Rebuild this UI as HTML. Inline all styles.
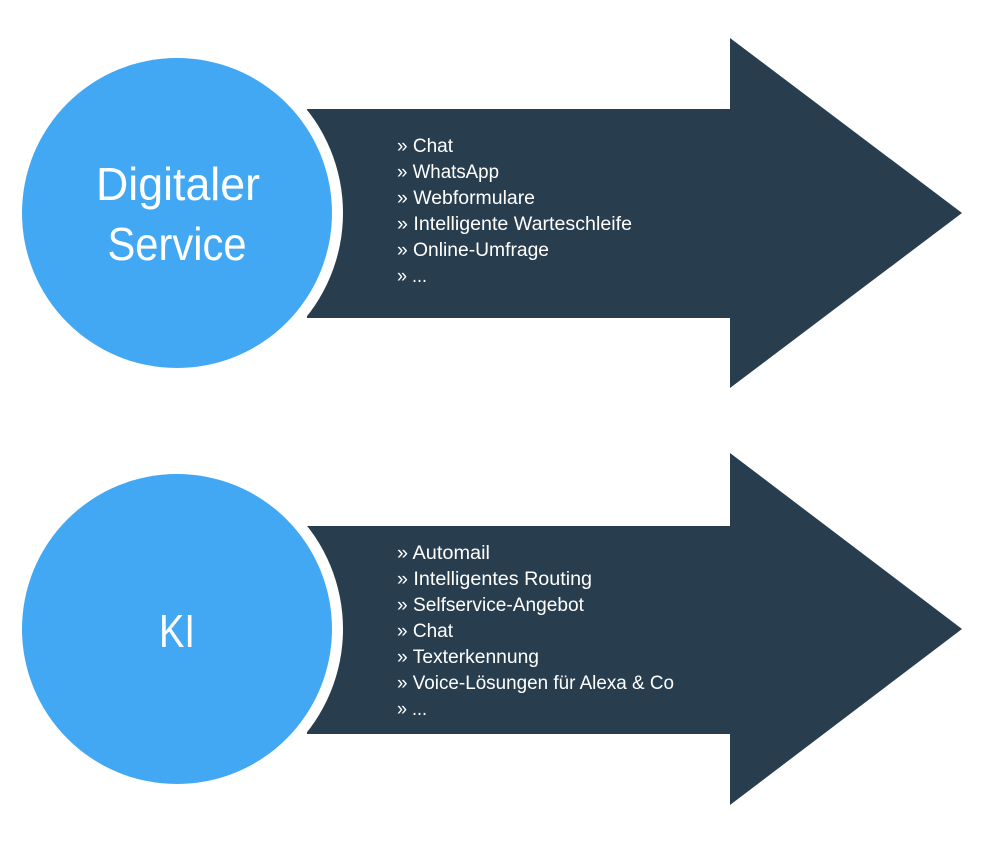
<!DOCTYPE html>
<html><head><meta charset="utf-8"><style>
html,body{margin:0;padding:0;background:#fff;}
svg{display:block;}
text{font-family:"Liberation Sans",sans-serif;fill:#fff;}
</style></head><body>
<svg width="984" height="843" viewBox="0 0 984 843" xmlns="http://www.w3.org/2000/svg">
<polygon points="307,109 730,109 730,38 962,213 730,388 730,318 307,318" fill="#283e4f"/>
<circle cx="177" cy="213" r="166" fill="#fff"/>
<circle cx="177" cy="213" r="155" fill="#42a8f3"/>
<text x="178" y="200" font-size="46" text-anchor="middle" textLength="164" lengthAdjust="spacingAndGlyphs">Digitaler</text>
<text x="177" y="260" font-size="46" text-anchor="middle" textLength="139" lengthAdjust="spacingAndGlyphs">Service</text>
<g font-size="19">
<text x="397" y="152" textLength="56" lengthAdjust="spacingAndGlyphs">» Chat</text>
<text x="397" y="178" textLength="102" lengthAdjust="spacingAndGlyphs">» WhatsApp</text>
<text x="397" y="204" textLength="138" lengthAdjust="spacingAndGlyphs">» Webformulare</text>
<text x="397" y="230" textLength="235" lengthAdjust="spacingAndGlyphs">» Intelligente Warteschleife</text>
<text x="397" y="256" textLength="152" lengthAdjust="spacingAndGlyphs">» Online-Umfrage</text>
<text x="397" y="282" textLength="30" lengthAdjust="spacingAndGlyphs">» ...</text>
</g>
<polygon points="307,526 730,526 730,453 962,629 730,805 730,734 307,734" fill="#283e4f"/>
<circle cx="177" cy="629" r="166" fill="#fff"/>
<circle cx="177" cy="629" r="155" fill="#42a8f3"/>
<text x="177" y="647" font-size="46" text-anchor="middle" textLength="36" lengthAdjust="spacingAndGlyphs">KI</text>
<g font-size="19">
<text x="397" y="559" textLength="93" lengthAdjust="spacingAndGlyphs">» Automail</text>
<text x="397" y="585" textLength="195" lengthAdjust="spacingAndGlyphs">» Intelligentes Routing</text>
<text x="397" y="611" textLength="187" lengthAdjust="spacingAndGlyphs">» Selfservice-Angebot</text>
<text x="397" y="637" textLength="56" lengthAdjust="spacingAndGlyphs">» Chat</text>
<text x="397" y="663" textLength="142" lengthAdjust="spacingAndGlyphs">» Texterkennung</text>
<text x="397" y="689" textLength="277" lengthAdjust="spacingAndGlyphs">» Voice-Lösungen für Alexa &amp; Co</text>
<text x="397" y="715" textLength="30" lengthAdjust="spacingAndGlyphs">» ...</text>
</g>
</svg>
</body></html>
